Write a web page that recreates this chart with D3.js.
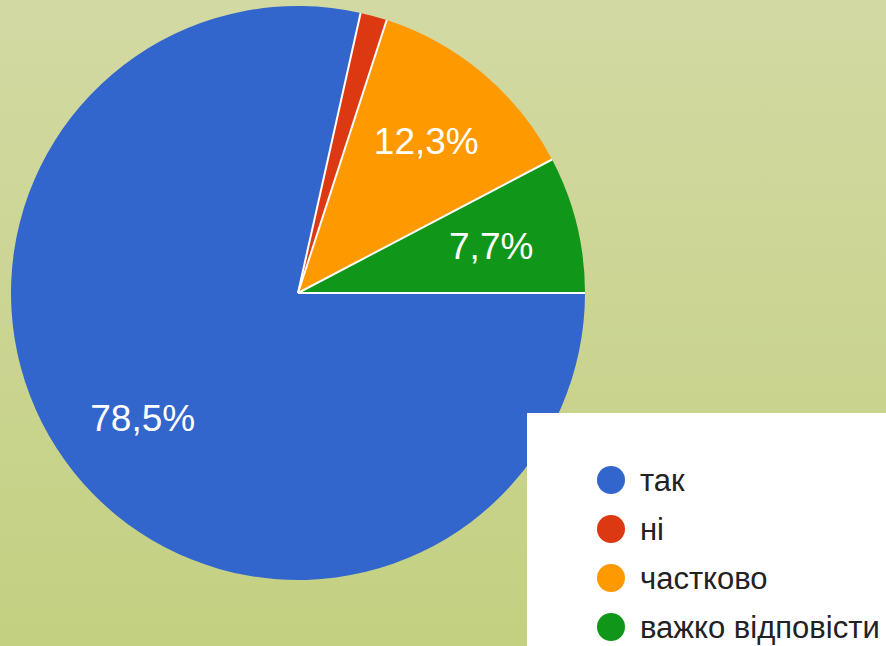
<!DOCTYPE html>
<html>
<head>
<meta charset="utf-8">
<script src="https://cdn.jsdelivr.net/npm/d3@7"></script>
<style>
  html, body { margin: 0; padding: 0; overflow: hidden; }
  svg { display: block; }
</style>
</head>
<body>
<script>
// data
var categories = ["так", "ні", "частково", "важко відповісти"];
var values = [78.5, 1.5, 12.3, 7.7];
var colors = ["#3366cc", "#dc3912", "#ff9900", "#109618"];

var width = 886, height = 646;
var cx = 298, cy = 293, radius = 287;

var svg = d3.select("body").append("svg")
    .attr("width", width)
    .attr("height", height);

// background gradient
var grad = svg.append("defs").append("linearGradient")
    .attr("id", "bg")
    .attr("x1", 0).attr("y1", 0).attr("x2", 0).attr("y2", 1);
grad.append("stop").attr("offset", "0%").attr("stop-color", "#d3d9a3");
grad.append("stop").attr("offset", "100%").attr("stop-color", "#c3d081");

svg.append("rect")
    .attr("width", width)
    .attr("height", height)
    .attr("fill", "url(#bg)");

var data = categories.map((c, i) => ({name: c, value: values[i], color: colors[i]}));

// slices go clockwise and finish at 3 o'clock
var pie = d3.pie()
    .sort(null)
    .value(d => d.value)
    .startAngle(-1.5 * Math.PI)
    .endAngle(0.5 * Math.PI);

var arc = d3.arc().innerRadius(0).outerRadius(radius);
var labelArc = d3.arc().innerRadius(199).outerRadius(199);

var g = svg.append("g").attr("transform", `translate(${cx}, ${cy})`);

var arcs = pie(data);

g.selectAll("path")
    .data(arcs)
    .enter().append("path")
    .attr("d", arc)
    .attr("fill", d => d.data.color);

// white separators only between slices, no outer rim
g.selectAll("line")
    .data(arcs)
    .enter().append("line")
    .attr("x1", 0).attr("y1", 0)
    .attr("x2", d => d3.pointRadial(d.startAngle, radius)[0])
    .attr("y2", d => d3.pointRadial(d.startAngle, radius)[1])
    .attr("stroke", "#ffffff")
    .attr("stroke-width", 2);

g.selectAll("text")
    .data(arcs.filter(d => d.data.value > 5))
    .enter().append("text")
    .attr("transform", d => `translate(${labelArc.centroid(d)})`)
    .attr("text-anchor", "middle")
    .attr("dy", "0.36em")
    .attr("fill", "#ffffff")
    .style("font-family", "'Liberation Sans', Arial, sans-serif")
    .style("font-size", "37px")
    .text(d => d.data.value.toFixed(1).replace(".", ",") + "%");

// legend
var legend = svg.append("g");
legend.append("rect")
    .attr("x", 527).attr("y", 413)
    .attr("width", width - 527).attr("height", height - 413)
    .attr("fill", "#ffffff");

var ly = d3.scalePoint().domain(categories).range([480, 627]);

var items = legend.selectAll(".item")
    .data(data)
    .enter().append("g")
    .attr("class", "item")
    .attr("transform", d => `translate(611, ${ly(d.name)})`);

items.append("circle")
    .attr("r", 14)
    .attr("fill", d => d.color);

items.append("text")
    .attr("x", 29)
    .attr("dy", "0.35em")
    .attr("fill", "#222222")
    .style("font-family", "'Liberation Sans', Arial, sans-serif")
    .style("font-size", "31px")
    .text(d => d.name);
</script>
</body>
</html>
